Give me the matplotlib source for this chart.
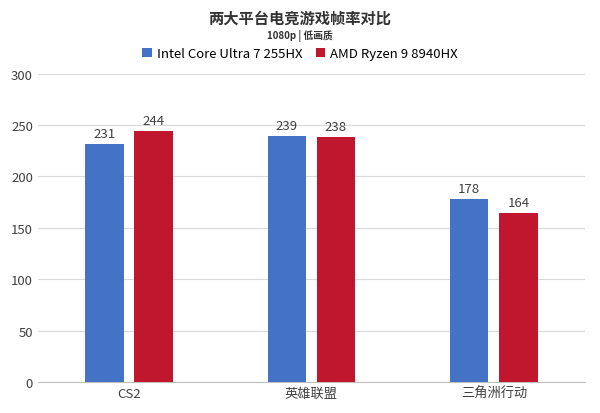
import matplotlib
matplotlib.use("Agg")
import matplotlib.pyplot as plt
import numpy as np

plt.rcParams['font.family'] = ['Noto Sans CJK SC', 'DejaVu Sans']

categories = ["CS2", "英雄联盟", "三角洲行动"]
intel = [231, 239, 178]
amd = [244, 238, 164]
series_names = ["Intel Core Ultra 7 255HX", "AMD Ryzen 9 8940HX"]
yticks = [0, 50, 100, 150, 200, 250, 300]

fig = plt.figure(figsize=(6.0, 4.14), dpi=100)
ax = fig.add_axes([0.063, 0.075, 0.912, 0.745])
x = np.arange(len(categories))
w = 0.21
off = 0.135
b1 = ax.bar(x - off, intel, w, color="#4472C4", label=series_names[0], zorder=3)
b2 = ax.bar(x + off, amd, w, color="#C0172E", label=series_names[1], zorder=3)
for bars in (b1, b2):
    for r in bars:
        ax.text(r.get_x() + r.get_width() / 2, r.get_height() + 4, f"{int(r.get_height())}",
                ha="center", va="bottom", fontsize=9.5, color="#404040")
ax.set_xlim(-0.5, 2.5)
ax.set_ylim(0, 300)
ax.set_yticks(yticks)
ax.set_xticks(x)
ax.set_xticklabels(categories)
ax.tick_params(axis='both', length=0, labelsize=9.5, colors="#404040")
ax.grid(axis='y', color="#D9D9D9", linewidth=0.8, zorder=0)
for s in ("top", "right", "left"):
    ax.spines[s].set_visible(False)
ax.spines["bottom"].set_color("#BFBFBF")
fig.text(0.5, 0.955, "两大平台电竞游戏帧率对比", ha="center", va="center", fontsize=11, fontweight="bold", color="#333333")
fig.text(0.5, 0.912, "1080p | 低画质", ha="center", va="center", fontsize=7, fontweight="bold", color="#333333")
fig.legend(loc="center", bbox_to_anchor=(0.5, 0.868), ncol=2, frameon=False, fontsize=9.5,
           handlelength=0.7, handleheight=0.7, columnspacing=1.0, handletextpad=0.4)
fig.savefig("out.png", dpi=100)
